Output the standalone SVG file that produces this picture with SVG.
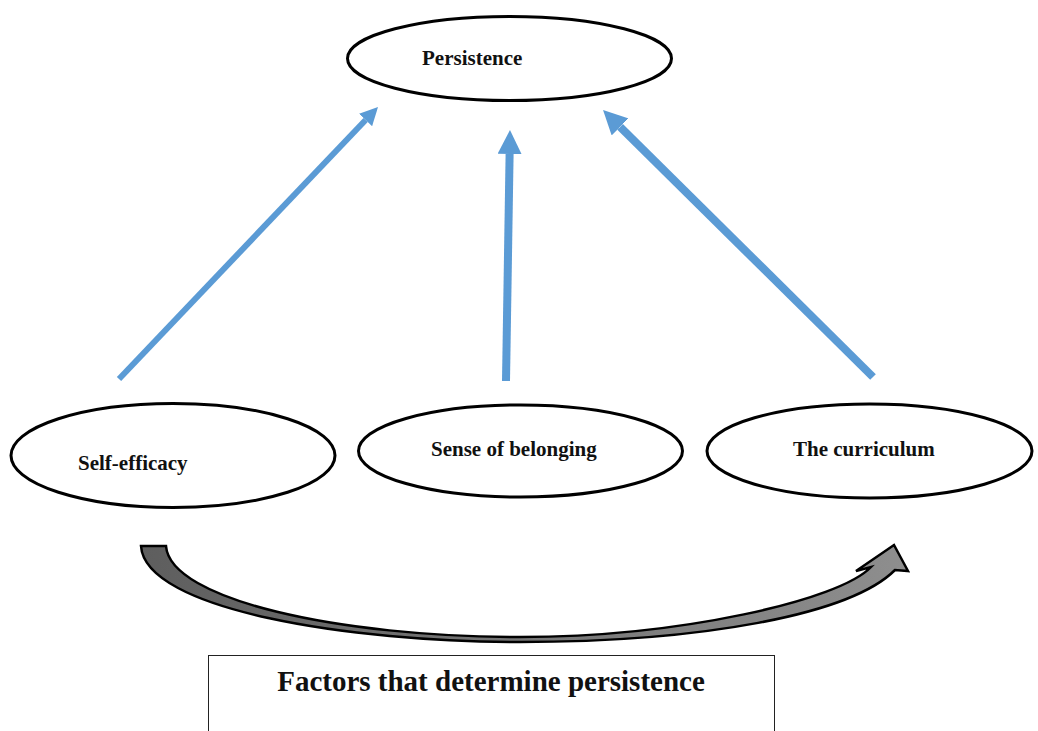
<svg xmlns="http://www.w3.org/2000/svg" width="1038" height="731" viewBox="0 0 1038 731">
<style>
.node ellipse{fill:#fff;stroke:#000;stroke-width:3}
.lbl{font-family:"Liberation Serif","Times New Roman",serif;font-weight:bold;font-size:21px;fill:#111}
.conn line{stroke:#5B9BD5;fill:none}
</style>
<defs>
<marker id="ah" markerUnits="strokeWidth" markerWidth="3" markerHeight="3" refX="0" refY="1.5" orient="auto" viewBox="0 0 3 3">
<path d="M0,0 L3,1.5 L0,3 z" fill="#5B9BD5"/>
</marker>
<linearGradient id="g" x1="0" y1="0" x2="1" y2="0">
<stop offset="0" stop-color="#5e5e5e"/>
<stop offset="1" stop-color="#8e8e8e"/>
</linearGradient>
</defs>
<rect width="1038" height="731" fill="#fff"/>
<g id="persistence" class="node">
<ellipse cx="509.5" cy="58.5" rx="162" ry="42"/>
<text class="lbl" x="422" y="65">Persistence</text>
</g>
<g id="self-efficacy" class="node">
<ellipse cx="173" cy="455.5" rx="162" ry="52"/>
<text class="lbl" x="78" y="470">Self-efficacy</text>
</g>
<g id="belonging" class="node">
<ellipse cx="520.5" cy="451" rx="162" ry="46"/>
<text class="lbl" x="431" y="456">Sense of belonging</text>
</g>
<g id="curriculum" class="node">
<ellipse cx="869.5" cy="451" rx="162.5" ry="47"/>
<text class="lbl" x="793" y="456">The curriculum</text>
</g>
<g id="connectors" class="conn">
<line x1="119" y1="379" x2="365.6" y2="120" stroke-width="6" marker-end="url(#ah)"/>
<line x1="506" y1="381" x2="509.6" y2="154" stroke-width="8" marker-end="url(#ah)"/>
<line x1="873" y1="377" x2="620.1" y2="126.9" stroke-width="8" marker-end="url(#ah)"/>
</g>
<g id="curved-arrow">
<path d="M141,546 C145,610 350,642 520,642 C700,642 850,615 895,570 L908,571 L894,545 L856,571 L871,567 C840,600 680,637 520,637 C340,637 170,600 166,546 Z" fill="url(#g)" stroke="#000" stroke-width="2.5" stroke-linejoin="miter"/>
</g>
<g id="title-box">
<rect x="208.5" y="655.5" width="566" height="90" fill="#fff" stroke="#222" stroke-width="1"/>
<text x="491" y="691" text-anchor="middle" font-family="'Liberation Serif','Times New Roman',serif" font-weight="bold" font-size="29" fill="#111">Factors that determine persistence</text>
</g>
</svg>
